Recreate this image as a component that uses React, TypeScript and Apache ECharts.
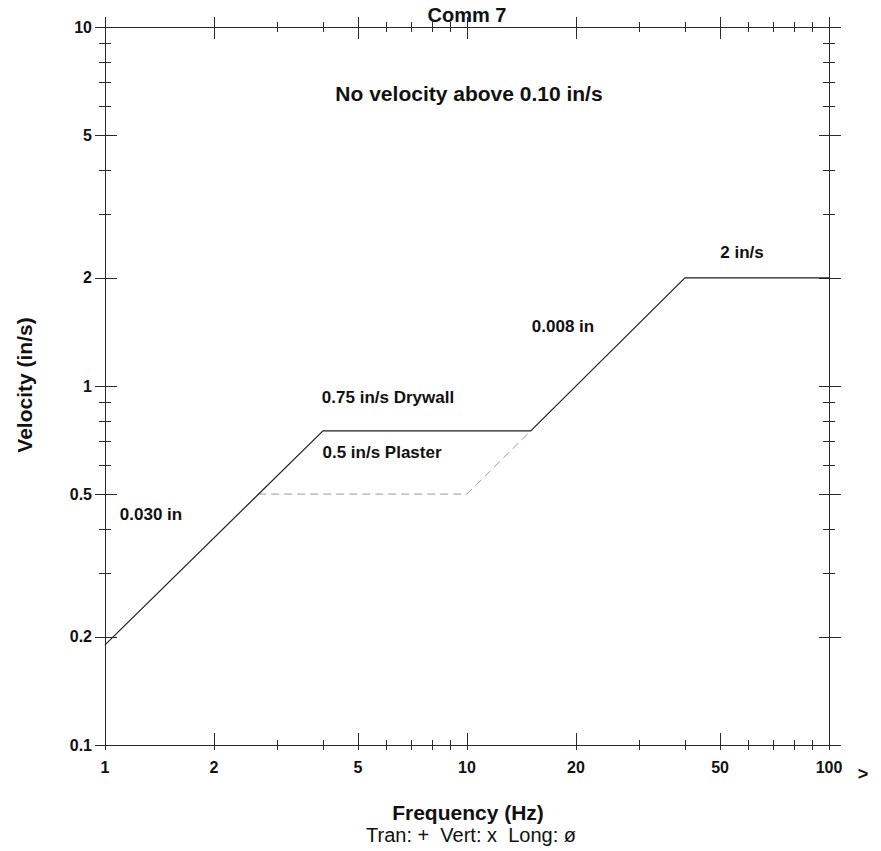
import React, { useEffect, useRef } from 'react';
import * as echarts from 'echarts';

// Axis ticks and labels (log-log chart)
const xMajorTicks = [1, 2, 5, 10, 20, 50, 100];
const xTickLabels = ['1', '2', '5', '10', '20', '50', '100'];
const xMinorTicks = [3, 4, 6, 7, 8, 9, 30, 40, 60, 70, 80, 90];
const yMajorTicks = [0.1, 0.2, 0.5, 1, 2, 5, 10];
const yTickLabels = ['0.1', '0.2', '0.5', '1', '2', '5', '10'];
const yMinorTicks = [0.3, 0.4, 0.6, 0.7, 0.8, 0.9, 3, 4, 6, 7, 8, 9];

// Criterion curve (solid): 0.030 in -> 0.75 in/s Drywall -> 0.008 in -> 2 in/s
const limitFreq = [1, 4, 15, 40, 100];
const limitVel = [0.19, 0.75, 0.75, 2, 2];
// Plaster criterion (dashed): 0.5 in/s
const plasterFreq = [2.65, 10, 15];
const plasterVel = [0.5, 0.5, 0.75];

const FONT = '"Liberation Sans", Arial, Helvetica, sans-serif';
const AX = '#2a2a2a';
const TXT = '#111';

const lg = (v: number) => Math.round(Math.log10(v) * 1e9) / 1e9;

function helperAxis(
  dim: 'x' | 'y',
  position: string,
  ticks: number[],
  inside: boolean,
  length: number,
  showLine: boolean,
  labelValues?: number[],
  labelTexts?: string[],
  margin?: number
) {
  const min = dim === 'x' ? 0 : -1;
  const max = dim === 'x' ? 2 : 1;
  return {
    type: 'value',
    position,
    min,
    max,
    axisLine: { show: showLine, onZero: false, lineStyle: { color: AX, width: 1 } },
    axisTick: {
      show: true,
      inside,
      length,
      customValues: ticks.map(lg),
      lineStyle: { color: AX, width: 1 },
    },
    axisLabel: labelValues
      ? {
          show: true,
          customValues: labelValues.map(lg),
          formatter: (v: number) => {
            const i = labelValues.findIndex((t) => Math.abs(lg(t) - v) < 1e-6);
            return i >= 0 ? labelTexts![i] : '';
          },
          margin,
          fontSize: 16,
          fontWeight: 'bold',
          fontFamily: FONT,
          color: TXT,
        }
      : { show: false },
    splitLine: { show: false },
  };
}

function txt(text: string, x: number, y: number, size: number, bold = true, rotation = 0) {
  return {
    type: 'text',
    x,
    y,
    rotation,
    silent: true,
    style: {
      text,
      fill: TXT,
      font: `${bold ? 'bold ' : ''}${size}px ${FONT}`,
      align: 'center',
      verticalAlign: 'middle',
    },
  };
}

export default function App() {
  const ref = useRef<HTMLDivElement>(null);

  useEffect(() => {
    document.body.style.margin = '0';
    if (!ref.current) return;
    const chart = echarts.init(ref.current, undefined, { renderer: 'svg' });

    const allX = [...xMajorTicks, ...xMinorTicks];

    const option: any = {
      animation: false,
      backgroundColor: '#ffffff',
      grid: {
        left: 105,
        right: 52,
        top: 27,
        bottom: 106,
        containLabel: false,
        outerBoundsMode: 'none',
      },
      xAxis: [
        { type: 'log', logBase: 10, min: 1, max: 100, show: false },
        // bottom
        helperAxis('x', 'bottom', allX, false, 5, true, xMajorTicks, xTickLabels, 14),
        helperAxis('x', 'bottom', xMinorTicks, true, 5, false),
        helperAxis('x', 'bottom', xMajorTicks, true, 12, false),
        // top
        helperAxis('x', 'top', xMajorTicks, false, 10, true),
        helperAxis('x', 'top', xMinorTicks, false, 5, false),
        helperAxis('x', 'top', xMinorTicks, true, 5, false),
        helperAxis('x', 'top', xMajorTicks, true, 12, false),
      ],
      yAxis: [
        { type: 'log', logBase: 10, min: 0.1, max: 10, show: false },
        // left
        helperAxis('y', 'left', yMajorTicks, false, 10, true, yMajorTicks, yTickLabels, 13),
        helperAxis('y', 'left', yMinorTicks, false, 6, false),
        helperAxis('y', 'left', yMinorTicks, true, 6, false),
        helperAxis('y', 'left', yMajorTicks, true, 12, false),
        // right
        helperAxis('y', 'right', yMajorTicks, false, 12, true),
        helperAxis('y', 'right', yMinorTicks, false, 6, false),
        helperAxis('y', 'right', yMinorTicks, true, 6, false),
        helperAxis('y', 'right', yMajorTicks, true, 10, false),
      ],
      series: [
        {
          type: 'line',
          xAxisIndex: 0,
          yAxisIndex: 0,
          data: limitFreq.map((f, i) => [f, limitVel[i]]),
          showSymbol: false,
          symbol: 'none',
          lineStyle: { color: '#1e1e1e', width: 1.2 },
          z: 5,
        },
        {
          type: 'line',
          xAxisIndex: 0,
          yAxisIndex: 0,
          data: plasterFreq.map((f, i) => [f, plasterVel[i]]),
          showSymbol: false,
          symbol: 'none',
          lineStyle: { color: '#9a9a9a', width: 1, type: [8, 5] },
          z: 4,
        },
      ],
      graphic: [
        txt('Comm 7', 467, 15, 20),
        txt('No velocity above 0.10 in/s', 469, 93, 21),
        txt('2 in/s', 742, 252, 17),
        txt('0.008 in', 563, 326, 17),
        txt('0.75 in/s Drywall', 388, 397, 17),
        txt('0.5 in/s Plaster', 382, 452, 17),
        txt('0.030 in', 151, 514, 17),
        txt('Velocity (in/s)', 24, 385, 21, true, Math.PI / 2),
        txt('Frequency (Hz)', 468, 812, 21),
        txt('Tran: +\u00a0 Vert: x\u00a0 Long: ø', 471, 835, 20, false),
        txt('>', 863, 774, 18),
      ],
    };

    chart.setOption(option);
    return () => chart.dispose();
  }, []);

  return <div ref={ref} style={{ width: 881, height: 851 }} />;
}
